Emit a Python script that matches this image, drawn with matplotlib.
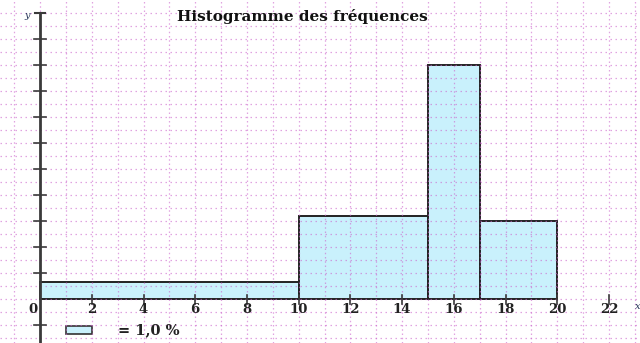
import matplotlib.pyplot as plt
from matplotlib.patches import Rectangle

# class bounds and frequencies (%)
bornes = [0, 10, 15, 17, 20]
frequences = [13, 32, 36, 18]
xticks = [0, 2, 4, 6, 8, 10, 12, 14, 16, 18, 20, 22]
yticks = [2, 4, 6, 8, 10, 12, 14, 16, 18, 20]
titre = "Histogramme des fréquences"
unite = "= 1,0 %"

bar_color = "#c9f1fc"
grid_color = "#cc66cc"
axis_color = "#3a3a3a"
serif = "DejaVu Serif"

fig = plt.figure(figsize=(6.4, 3.43), dpi=100)
ax = fig.add_axes([0, 0, 1, 1])
ax.set_xlim(-1.55, 23.2)
ax.set_ylim(-3.38, 23.0)
ax.axis("off")

# dotted grid, one line per unit
for gx in range(-1, 24):
    ax.axvline(gx, color=grid_color, lw=0.9, ls=(0, (1.2, 2.2)), alpha=0.6, zorder=3)
for gy in range(-3, 23):
    ax.axhline(gy, color=grid_color, lw=0.9, ls=(0, (1.2, 2.8)), alpha=0.6, zorder=3)

# histogram: bar height = frequency / class width
for a, b, f in zip(bornes[:-1], bornes[1:], frequences):
    h = f / (b - a)
    ax.add_patch(Rectangle((a, 0), b - a, h, facecolor=bar_color,
                           edgecolor="#222222", lw=1.4, zorder=2))

# axes
ax.annotate("", xy=(23.25, 0), xytext=(-1.6, 0),
            arrowprops=dict(arrowstyle="-|>", color="#777777", lw=1.2), zorder=4)
ax.plot([0, 0], [-3.4, 22], color=axis_color, lw=2, zorder=4)
ax.plot([-0.2, 0.2], [22, 22], color=axis_color, lw=1.5, zorder=4)

for t in xticks[1:]:
    ax.plot([t, t], [-0.35, 0.35], color=axis_color, lw=1.2, zorder=4)
for t in yticks + [-2]:
    ax.plot([-0.22, 0.22], [t, t], color=axis_color, lw=1.2, zorder=4)

for t in xticks:
    xpos = t - 0.28 if t == 0 else t
    ax.text(xpos, -0.8, str(t), ha="center", va="center", fontsize=9.5,
            fontweight="bold", family=serif, color="#222222", zorder=5)

ax.text(-0.5, 21.8, "y", ha="center", va="center", fontsize=7,
        style="italic", family=serif, color="#223355", zorder=5)
ax.text(23.1, -0.6, "x", ha="center", va="center", fontsize=7,
        style="italic", family=serif, color="#223355", zorder=5)

ax.text(10.15, 21.7, titre, ha="center", va="center", fontsize=11,
        fontweight="bold", family=serif, color="#111111", zorder=5)

# unit square for the areas
ax.add_patch(Rectangle((1, -2.72), 1, 0.68, facecolor=bar_color,
                       edgecolor="#333333", lw=1.2, zorder=2))
ax.text(3.0, -2.4, unite, ha="left", va="center", fontsize=10.5,
        fontweight="bold", family=serif, color="#222222", zorder=5)

fig.savefig("out.png", dpi=100)
